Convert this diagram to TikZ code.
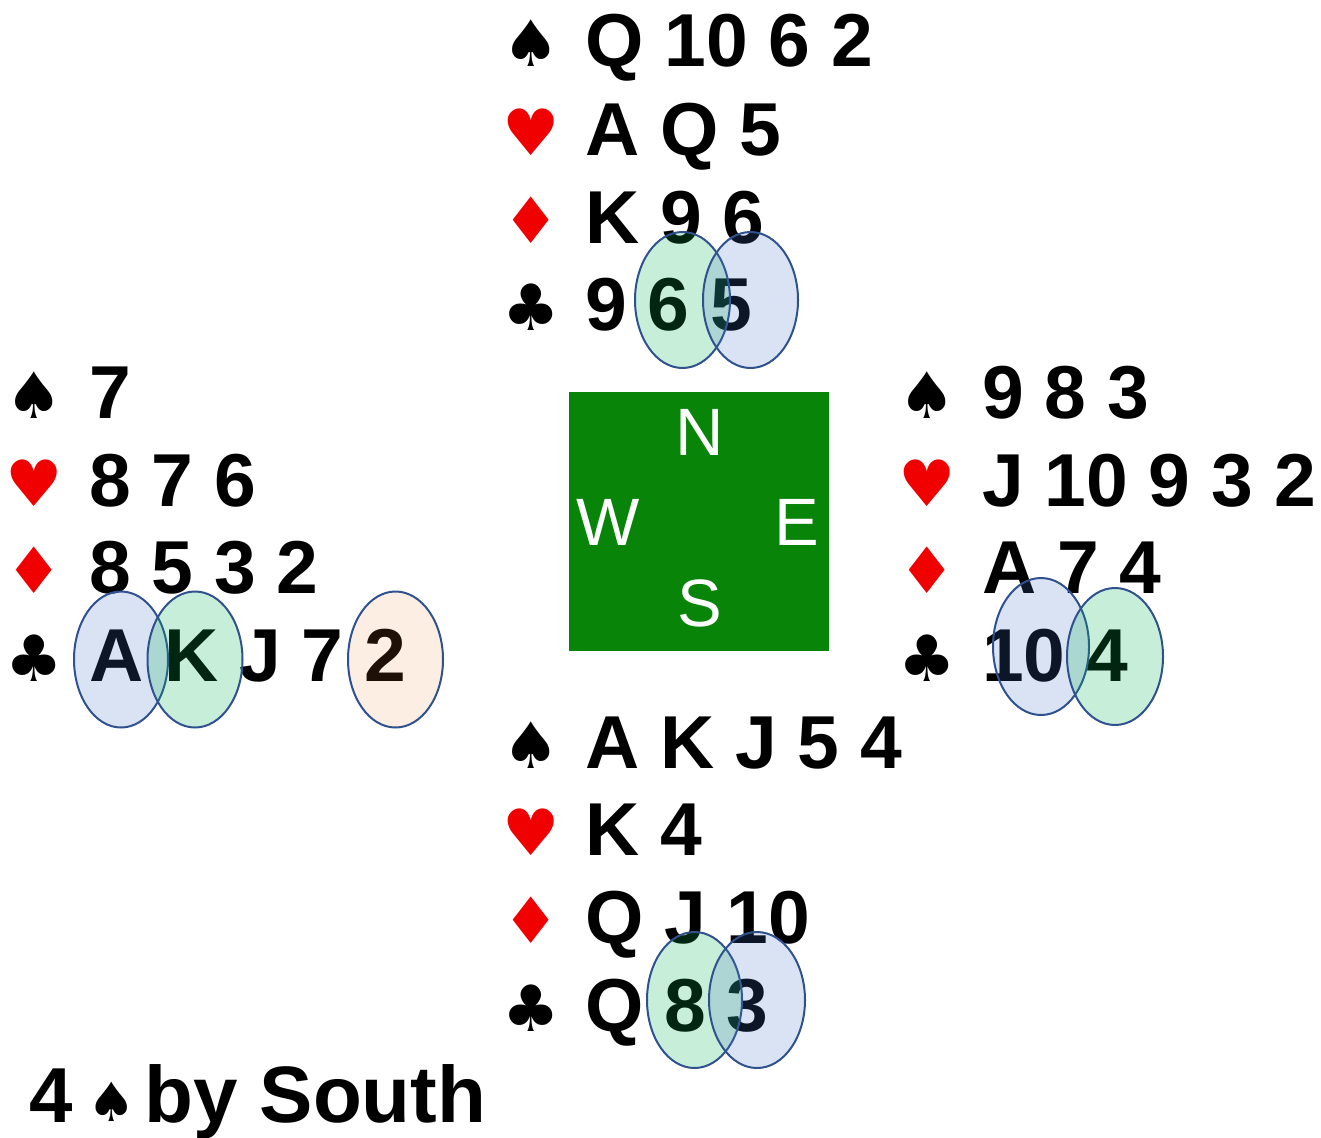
\documentclass[tikz,border=0pt]{standalone}
\usepackage{fontspec}
\setmainfont{Liberation Sans}
\newfontfamily\suitfont{DejaVu Sans}
\definecolor{tablegreen}{RGB}{8,132,8}
\definecolor{suitred}{RGB}{240,0,0}
\definecolor{rimblue}{RGB}{47,82,143}
\definecolor{fillblue}{RGB}{68,114,196}
\definecolor{fillgreen}{RGB}{0,176,80}
\definecolor{fillpeach}{RGB}{237,125,49}
\tikzset{
  cards/.style={anchor=base west, inner sep=0pt, font=\fontsize{75}{75}\selectfont\bfseries},
  suit/.style={anchor=base, inner sep=0pt, font=\suitfont\fontsize{64}{64}\selectfont},
  redsuit/.style={suit, text=suitred},
  compass/.style={anchor=base, inner sep=0pt, text=white, font=\fontsize{67}{67}\selectfont},
  blueov/.style={draw=rimblue, line width=2pt, fill=fillblue, fill opacity=0.2},
  greenov/.style={draw=rimblue, line width=2pt, fill=fillgreen, fill opacity=0.22},
  peachov/.style={draw=rimblue, line width=2pt, fill=fillpeach, fill opacity=0.13},
}
\begin{document}
\begin{tikzpicture}[x=1pt,y=-1pt]
\useasboundingbox (0,0) rectangle (1321,1137);
% table
\fill[tablegreen] (569,392) rectangle (829,651);
\node[compass] (cN) at (700,455) {N};
\node[compass] (cW) at (608,545) {W};
\node[compass] (cE) at (797,545) {E};
\node[compass] (cS) at (700,626) {S};
% North
\node[suit] (ns) at (531,67) {♠};
\node[redsuit] (nh) at (531,155) {♥};
\node[redsuit] (nd) at (531,243) {♦};
\node[suit] (nc) at (531,330) {♣};
\node[cards] (nS) at (585,67) {Q 10 6 2};
\node[cards] (nH) at (585,155) {A Q 5};
\node[cards] (nD) at (585,243) {K 9 6};
\node[cards] (nC) at (585,330) {9 6 5};
% West
\node[suit] (ws) at (34,418) {♠};
\node[redsuit] (wh) at (34,506) {♥};
\node[redsuit] (wd) at (34,593) {♦};
\node[suit] (wc) at (34,681) {♣};
\node[cards] (wS) at (89,418) {7};
\node[cards] (wH) at (89,506) {8 7 6};
\node[cards] (wD) at (89,593) {8 5 3 2};
\node[cards] (wC) at (89,681) {A K J 7 2};
% East
\node[suit] (es) at (927,418) {♠};
\node[redsuit] (eh) at (927,506) {♥};
\node[redsuit] (ed) at (927,593) {♦};
\node[suit] (ec) at (927,681) {♣};
\node[cards] (eS) at (982,418) {9 8 3};
\node[cards] (eH) at (982,506) {J 10 9 3 2};
\node[cards] (eD) at (982,593) {A 7 4};
\node[cards] (eC) at (982,681) {10 4};
% South
\node[suit] (ss) at (531,768) {♠};
\node[redsuit] (sh) at (531,855) {♥};
\node[redsuit] (sd) at (531,943) {♦};
\node[suit] (sc) at (531,1031) {♣};
\node[cards] (sS) at (585,768) {A K J 5 4};
\node[cards] (sH) at (585,855) {K 4};
\node[cards] (sD) at (585,943) {Q J 10};
\node[cards] (sC) at (585,1031) {Q 8 3};
% contract
\node[anchor=base west, inner sep=0pt, font=\fontsize{78}{78}\selectfont\bfseries] (c4) at (29,1122) {4};
\node[anchor=base, inner sep=0pt, font=\suitfont\fontsize{54}{54}\selectfont] (cs) at (112,1121) {♠};
\node[anchor=base west, inner sep=0pt, font=\fontsize{80}{80}\selectfont\bfseries] (cby) at (144,1122) {by South};
% ellipses (played cards)
\draw[greenov] (682.5,300) ellipse (47.5 and 68);
\draw[blueov] (750.5,300) ellipse (47.5 and 68);
\draw[blueov] (121,659.5) ellipse (47 and 68);
\draw[greenov] (195,659.5) ellipse (47.5 and 68);
\draw[peachov] (395.5,659.5) ellipse (47.5 and 68);
\draw[blueov] (1041,646.5) ellipse (48 and 68.5);
\draw[greenov] (1115,656.5) ellipse (48 and 68.5);
\draw[greenov] (694.5,1000) ellipse (47.5 and 68);
\draw[blueov] (757,1000) ellipse (48 and 68);
\end{tikzpicture}
\end{document}
